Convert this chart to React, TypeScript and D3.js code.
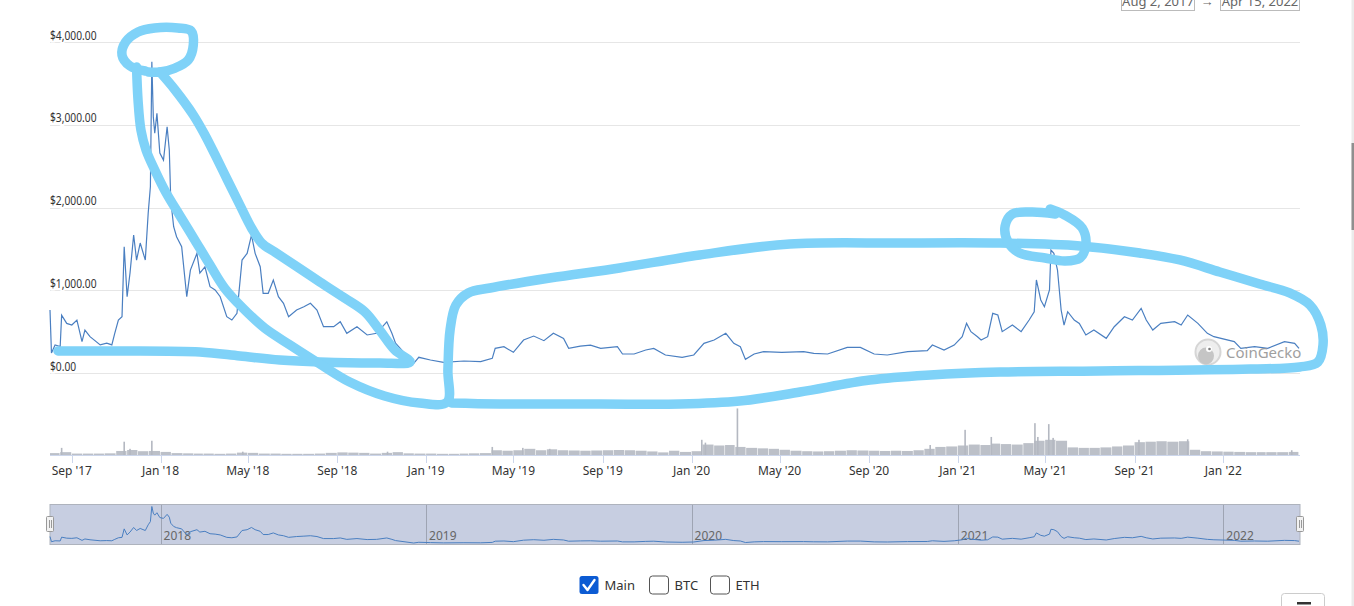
import { useEffect, useRef } from 'react';
import * as d3 from 'd3';

// BCH price in USD
const priceSeries: [string, number][] = [
  ['2017-08-02', 762], ['2017-08-04', 242], ['2017-08-09', 340], ['2017-08-16', 320], ['2017-08-18', 700],
  ['2017-08-25', 600], ['2017-09-01', 580], ['2017-09-08', 640], ['2017-09-15', 380], ['2017-09-19', 520],
  ['2017-09-26', 440], ['2017-10-10', 340], ['2017-10-19', 360], ['2017-10-26', 340], ['2017-10-30', 480],
  ['2017-11-04', 640], ['2017-11-09', 680], ['2017-11-12', 1527], ['2017-11-16', 923], ['2017-11-20', 1209],
  ['2017-11-25', 1669], ['2017-11-29', 1366], ['2017-12-04', 1572], ['2017-12-11', 1366], ['2017-12-15', 1935],
  ['2017-12-18', 2253], ['2017-12-20', 3764], ['2017-12-22', 3100], ['2017-12-24', 2900], ['2017-12-27', 3140],
  ['2017-12-31', 2660], ['2018-01-05', 2575], ['2018-01-10', 2978], ['2018-01-13', 2697], ['2018-01-15', 2092],
  ['2018-01-19', 1769], ['2018-01-23', 1648], ['2018-01-30', 1527], ['2018-02-06', 923], ['2018-02-11', 1245],
  ['2018-02-20', 1447], ['2018-02-24', 1209], ['2018-03-03', 1285], ['2018-03-10', 1044], ['2018-03-17', 1004],
  ['2018-03-24', 923], ['2018-04-02', 681], ['2018-04-09', 641], ['2018-04-16', 722], ['2018-04-23', 1366],
  ['2018-04-30', 1447], ['2018-05-06', 1669], ['2018-05-11', 1447], ['2018-05-18', 1285], ['2018-05-22', 964],
  ['2018-05-29', 964], ['2018-06-05', 1124], ['2018-06-12', 923], ['2018-06-19', 843], ['2018-06-26', 681],
  ['2018-07-07', 762], ['2018-07-17', 802], ['2018-07-26', 843], ['2018-08-04', 762], ['2018-08-13', 560],
  ['2018-08-27', 560], ['2018-09-05', 620], ['2018-09-14', 480], ['2018-09-28', 560], ['2018-10-12', 460],
  ['2018-10-25', 480], ['2018-11-08', 620], ['2018-11-15', 480], ['2018-11-20', 360], ['2018-12-15', 117],
  ['2018-12-22', 190], ['2019-01-07', 157], ['2019-01-25', 129], ['2019-02-22', 145], ['2019-03-17', 137],
  ['2019-04-02', 177], ['2019-04-06', 298], ['2019-04-18', 318], ['2019-05-01', 250], ['2019-05-15', 399],
  ['2019-05-29', 447], ['2019-06-12', 391], ['2019-06-25', 480], ['2019-07-09', 419], ['2019-07-16', 298],
  ['2019-08-01', 326], ['2019-08-15', 338], ['2019-08-29', 298], ['2019-09-21', 318], ['2019-09-28', 230],
  ['2019-10-14', 230], ['2019-10-30', 278], ['2019-11-10', 298], ['2019-11-26', 218], ['2019-12-19', 190],
  ['2020-01-04', 218], ['2020-01-18', 359], ['2020-02-01', 399], ['2020-02-17', 480], ['2020-02-28', 359],
  ['2020-03-08', 318], ['2020-03-15', 165], ['2020-03-27', 230], ['2020-04-09', 258], ['2020-05-04', 250],
  ['2020-06-03', 258], ['2020-06-17', 238], ['2020-07-06', 230], ['2020-08-02', 310], ['2020-08-20', 310],
  ['2020-09-08', 230], ['2020-09-26', 218], ['2020-10-24', 258], ['2020-11-20', 270], ['2020-11-27', 338],
  ['2020-12-13', 278], ['2020-12-27', 338], ['2021-01-07', 439], ['2021-01-13', 600], ['2021-01-19', 500],
  ['2021-01-28', 439], ['2021-02-02', 399], ['2021-02-11', 439], ['2021-02-18', 722], ['2021-02-25', 701],
  ['2021-03-03', 500], ['2021-03-17', 580], ['2021-03-29', 500], ['2021-04-09', 641], ['2021-04-16', 741],
  ['2021-04-19', 1125], ['2021-04-25', 883], ['2021-04-30', 802], ['2021-05-07', 1004], ['2021-05-09', 1487],
  ['2021-05-13', 1447], ['2021-05-18', 1245], ['2021-05-23', 762], ['2021-05-27', 580], ['2021-06-01', 741],
  ['2021-06-10', 641], ['2021-06-17', 600], ['2021-06-26', 460], ['2021-07-07', 520], ['2021-07-24', 419],
  ['2021-08-04', 560], ['2021-08-18', 681], ['2021-08-29', 641], ['2021-09-10', 782], ['2021-09-17', 641],
  ['2021-09-26', 520], ['2021-10-07', 600], ['2021-10-26', 620], ['2021-11-04', 580], ['2021-11-13', 701],
  ['2021-11-27', 600], ['2021-12-10', 480], ['2021-12-19', 439], ['2022-01-16', 380], ['2022-01-25', 298],
  ['2022-02-13', 318], ['2022-03-03', 298], ['2022-03-26', 380], ['2022-04-09', 359], ['2022-04-15', 298],
];

// traded volume, USD billions, half-month levels
const volumeBase: [string, number][] = [
  ['2017-08-02', 0.4], ['2017-08-16', 0.6], ['2017-09-01', 0.3], ['2017-09-16', 0.3], ['2017-10-01', 0.3],
  ['2017-10-16', 0.35], ['2017-11-01', 0.85], ['2017-11-16', 1.05], ['2017-12-01', 0.8], ['2017-12-16', 0.85],
  ['2018-01-01', 0.65], ['2018-01-16', 0.4], ['2018-02-01', 0.35], ['2018-02-16', 0.3], ['2018-03-01', 0.3],
  ['2018-03-16', 0.25], ['2018-04-01', 0.3], ['2018-04-16', 0.5], ['2018-05-01', 0.45], ['2018-05-16', 0.3],
  ['2018-06-01', 0.3], ['2018-06-16', 0.25], ['2018-07-01', 0.25], ['2018-07-16', 0.25], ['2018-08-01', 0.3],
  ['2018-08-16', 0.45], ['2018-09-01', 0.55], ['2018-09-16', 0.5], ['2018-10-01', 0.45], ['2018-10-16', 0.3],
  ['2018-11-01', 0.45], ['2018-11-16', 0.6], ['2018-12-01', 0.35], ['2018-12-16', 0.3], ['2019-01-01', 0.3],
  ['2019-01-16', 0.25], ['2019-02-01', 0.25], ['2019-02-16', 0.3], ['2019-03-01', 0.35], ['2019-03-16', 0.4],
  ['2019-04-01', 1.0], ['2019-04-16', 0.9], ['2019-05-01', 1.0], ['2019-05-16', 1.3], ['2019-06-01', 1.0],
  ['2019-06-16', 1.2], ['2019-07-01', 1.0], ['2019-07-16', 0.95], ['2019-08-01', 0.9], ['2019-08-16', 0.95],
  ['2019-09-01', 1.0], ['2019-09-16', 1.05], ['2019-10-01', 1.0], ['2019-10-16', 0.9], ['2019-11-01', 0.75],
  ['2019-11-16', 0.55], ['2019-12-01', 0.9], ['2019-12-16', 0.65], ['2020-01-01', 0.8], ['2020-01-16', 2.2],
  ['2020-02-01', 2.0], ['2020-02-16', 2.1], ['2020-03-01', 1.7], ['2020-03-16', 1.5], ['2020-04-01', 1.4],
  ['2020-04-16', 1.3], ['2020-05-01', 1.1], ['2020-05-16', 0.9], ['2020-06-01', 0.8], ['2020-06-16', 0.75],
  ['2020-07-01', 0.8], ['2020-07-16', 0.9], ['2020-08-01', 1.0], ['2020-08-16', 0.95], ['2020-09-01', 0.9],
  ['2020-09-16', 0.85], ['2020-10-01', 0.9], ['2020-10-16', 0.85], ['2020-11-01', 1.0], ['2020-11-16', 1.3],
  ['2020-12-01', 1.7], ['2020-12-16', 1.8], ['2021-01-01', 2.0], ['2021-01-16', 2.2], ['2021-02-01', 2.1],
  ['2021-02-16', 2.4], ['2021-03-01', 2.3], ['2021-03-16', 2.2], ['2021-04-01', 2.5], ['2021-04-16', 3.0],
  ['2021-05-01', 3.2], ['2021-05-16', 3.0], ['2021-06-01', 1.6], ['2021-06-16', 1.5], ['2021-07-01', 1.5],
  ['2021-07-16', 1.6], ['2021-08-01', 1.8], ['2021-08-16', 2.0], ['2021-09-01', 2.7], ['2021-09-16', 2.8],
  ['2021-10-01', 2.9], ['2021-10-16', 2.8], ['2021-11-01', 2.9], ['2021-11-16', 1.1], ['2021-12-01', 0.8],
  ['2021-12-16', 0.75], ['2022-01-01', 0.7], ['2022-01-16', 0.65], ['2022-02-01', 0.6], ['2022-02-16', 0.6],
  ['2022-03-01', 0.6], ['2022-03-16', 0.6], ['2022-04-01', 0.65],
];

// single-day volume spikes, USD billions
const volumeSpikes: [string, number][] = [
  ['2017-08-18', 1.5], ['2017-11-12', 2.8], ['2017-11-20', 1.3], ['2017-12-20', 3.0], ['2018-04-24', 0.7],
  ['2018-11-09', 0.7], ['2019-04-02', 1.7], ['2019-05-14', 1.5], ['2019-06-20', 1.3], ['2020-01-15', 3.2],
  ['2020-01-20', 2.6], ['2020-03-04', 9.8], ['2020-11-24', 2.1], ['2021-01-11', 5.3], ['2021-02-16', 3.8],
  ['2021-04-17', 6.7], ['2021-04-21', 3.8], ['2021-05-06', 6.5], ['2021-05-12', 3.6], ['2021-09-07', 3.2],
  ['2021-11-13', 3.3], ['2022-04-05', 1.0],
];

const yTicks = [0, 1000, 2000, 3000, 4000];
const dateRange = ['Aug 2, 2017', 'Apr 15, 2022'];
const legendItems = [{ name: 'Main', checked: true }, { name: 'BTC', checked: false }, { name: 'ETH', checked: false }];

// hand-drawn marker strokes, in chart units (date, price)
const inkTop: [string, number][] = [
  ['2017-12-11', 3653], ['2017-11-20', 3713], ['2017-11-09', 3846], ['2017-11-14', 4004], ['2017-12-01', 4125],
  ['2017-12-24', 4173], ['2018-01-25', 4173], ['2018-02-12', 4137], ['2018-02-15', 3967], ['2018-02-08', 3786],
  ['2018-01-21', 3689], ['2017-12-31', 3641], ['2017-12-15', 3641],
];
const inkTriangle: [string, number][] = [
  ['2017-12-31', 3641], ['2018-01-21', 3423], ['2018-02-15', 3121], ['2018-03-03', 2879], ['2018-03-17', 2637],
  ['2018-04-03', 2334], ['2018-04-20', 2032], ['2018-05-06', 1754], ['2018-05-20', 1572], ['2018-06-07', 1464],
  ['2018-07-04', 1306], ['2018-08-08', 1101], ['2018-09-11', 907], ['2018-10-09', 738], ['2018-10-29', 520],
  ['2018-11-19', 278], ['2018-12-10', 133], ['2018-10-29', 121], ['2018-08-08', 133], ['2018-06-14', 157],
  ['2018-04-20', 206], ['2018-02-24', 254], ['2017-11-06', 266], ['2017-08-13', 266],
];
const inkLoop: [string, number][] = [
  ['2017-11-29', 3701], ['2017-12-01', 3302], ['2017-12-05', 2939], ['2017-12-12', 2697], ['2017-12-24', 2455],
  ['2018-01-08', 2189], ['2018-01-27', 1911], ['2018-02-17', 1609], ['2018-03-10', 1306], ['2018-03-30', 1028],
  ['2018-04-24', 786], ['2018-05-24', 544], ['2018-06-28', 339], ['2018-08-08', 109], ['2018-09-18', -109],
  ['2018-11-05', -278], ['2018-12-23', -363], ['2019-01-30', -351], ['2019-01-31', 36], ['2019-02-03', 520],
  ['2019-02-11', 822], ['2019-02-28', 968], ['2019-03-30', 1028], ['2019-06-20', 1149], ['2019-09-24', 1270],
  ['2020-01-12', 1427], ['2020-05-15', 1560], ['2020-10-13', 1572], ['2021-02-28', 1572], ['2021-06-18', 1536],
  ['2021-09-08', 1451], ['2021-11-02', 1367], ['2021-12-27', 1222], ['2022-02-20', 1076], ['2022-04-02', 968],
  ['2022-04-30', 822], ['2022-05-15', 581], ['2022-05-18', 339], ['2022-05-11', 133], ['2022-04-16', 73],
  ['2022-02-07', 48], ['2021-07-15', 24], ['2021-02-28', 12], ['2020-11-24', -24], ['2020-09-02', -85],
  ['2020-05-29', -230], ['2020-03-07', -339], ['2019-12-16', -375], ['2019-08-28', -375], ['2019-04-12', -375],
  ['2019-02-05', -363],
];
const inkPeak2021: [string, number][] = [
  ['2021-05-08', 1984], ['2021-05-28', 1911], ['2021-06-21', 1754], ['2021-06-26', 1548], ['2021-06-18', 1391],
  ['2021-05-28', 1355], ['2021-05-01', 1391], ['2021-03-27', 1451], ['2021-03-11', 1585], ['2021-03-07', 1778],
  ['2021-03-17', 1923], ['2021-04-13', 1947], ['2021-05-15', 1923],
];

const FONT = "'Segoe UI', 'Noto Sans', 'Open Sans', sans-serif";

export default function App() {
  const ref = useRef<SVGSVGElement>(null);

  useEffect(() => {
    document.body.style.margin = '0';
    document.body.style.overflow = 'hidden';
    const svg = d3.select(ref.current);
    svg.selectAll('*').remove();

    const parse = d3.timeParse('%Y-%m-%d');
    const start = parse('2017-08-02')!;
    const end = parse('2022-04-15')!;
    const prices = priceSeries.map(([d, v]) => ({ date: parse(d)!, value: v }));

    // scales
    const x = d3.scaleTime().domain([start, end]).range([50, 1299]);
    const y = d3.scaleLinear().domain([0, 4000]).range([373, 42.3]);
    const yVol = d3.scaleLinear().domain([0, 10]).range([455, 407.5]);
    const yNav = d3.scaleLinear()
      .domain([d3.min(prices, d => d.value)!, d3.max(prices, d => d.value)!])
      .range([543, 506.5]);

    svg.append('rect').attr('width', 1354).attr('height', 606).attr('fill', '#fff');

    // grid lines
    svg.append('g').selectAll('line').data(yTicks).enter().append('line')
      .attr('x1', 50).attr('x2', 1300)
      .attr('y1', d => Math.round(y(d)) + 0.5).attr('y2', d => Math.round(y(d)) + 0.5)
      .attr('stroke', '#e6e6e6');

    // y labels (white halo hides the grid under them)
    const money = d3.format('$,.2f');
    svg.append('g').selectAll('text').data(yTicks).enter().append('text')
      .attr('transform', d => `translate(50,${y(d) - 2.5}) scale(0.82,1)`)
      .attr('font-family', FONT).attr('font-size', 12.5).attr('fill', '#333')
      .attr('stroke', '#fff').attr('stroke-width', 4).attr('paint-order', 'stroke')
      .text(d => money(d));

    // volume columns
    const base = volumeBase.map(([d, v]) => ({ date: parse(d)!, value: v }));
    svg.append('g').selectAll('rect').data(base).enter().append('rect')
      .attr('x', d => x(d.date))
      .attr('width', (d, i) => Math.max(0.5, (i < base.length - 1 ? x(base[i + 1].date) : x(end)) - x(d.date) - 0.6))
      .attr('y', d => yVol(d.value))
      .attr('height', d => 455 - yVol(d.value))
      .attr('fill', '#bcc0c8');
    svg.append('g').selectAll('rect').data(volumeSpikes).enter().append('rect')
      .attr('x', d => x(parse(d[0])!) - 0.8)
      .attr('width', 1.6)
      .attr('y', d => yVol(d[1]))
      .attr('height', d => 455 - yVol(d[1]))
      .attr('fill', '#b4b8c1');

    // x axis
    svg.append('line').attr('x1', 50).attr('x2', 1300).attr('y1', 455.5).attr('y2', 455.5)
      .attr('stroke', '#ccd6eb');
    const xTicks = x.ticks(d3.timeMonth.every(4)!);
    const fmt = d3.timeFormat("%b '%y");
    const xt = svg.append('g');
    xt.selectAll('line').data(xTicks).enter().append('line')
      .attr('x1', d => Math.round(x(d)) + 0.5).attr('x2', d => Math.round(x(d)) + 0.5)
      .attr('y1', 455).attr('y2', 463).attr('stroke', '#ccd6eb');
    xt.selectAll('text').data(xTicks).enter().append('text')
      .attr('x', d => x(d)).attr('y', 474.5)
      .attr('text-anchor', 'middle')
      .attr('font-family', FONT).attr('font-size', 12).attr('fill', '#333')
      .text(d => fmt(d));

    // price line
    const line = d3.line<{ date: Date; value: number }>().x(d => x(d.date)).y(d => y(d.value));
    svg.append('path').datum(prices)
      .attr('d', line).attr('fill', 'none').attr('stroke', '#4a7fc1').attr('stroke-width', 1.2);

    // CoinGecko watermark
    const wm = svg.append('g').attr('opacity', 0.85);
    wm.append('circle').attr('cx', 1208).attr('cy', 352).attr('r', 12.5)
      .attr('fill', '#ececec').attr('stroke', '#cfcfcf').attr('stroke-width', 2);
    wm.append('ellipse').attr('cx', 1206).attr('cy', 356).attr('rx', 8).attr('ry', 8.5).attr('fill', '#bcbcbc');
    wm.append('circle').attr('cx', 1209).attr('cy', 349).attr('r', 3).attr('fill', '#fff');
    wm.append('circle').attr('cx', 1209.5).attr('cy', 349).attr('r', 1.3).attr('fill', '#666');
    wm.append('text').attr('x', 1226).attr('y', 358)
      .attr('font-family', FONT).attr('font-size', 15).attr('fill', '#8f8f8f')
      .text('CoinGecko');

    // navigator
    const nav = svg.append('g');
    nav.append('rect').attr('x', 50).attr('y', 504.5).attr('width', 1250).attr('height', 40)
      .attr('fill', '#c7cee1').attr('stroke', '#aeb3bd');
    const years = x.ticks(d3.timeYear.every(1)!);
    nav.selectAll('line.sep').data(years).enter().append('line')
      .attr('x1', d => Math.round(x(d)) + 0.5).attr('x2', d => Math.round(x(d)) + 0.5)
      .attr('y1', 505).attr('y2', 544).attr('stroke', '#9ea4b3');
    nav.selectAll('text').data(years).enter().append('text')
      .attr('x', d => x(d) + 3).attr('y', 540)
      .attr('font-family', FONT).attr('font-size', 12).attr('fill', '#666')
      .text(d => d3.timeFormat('%Y')(d));
    const navLine = d3.line<{ date: Date; value: number }>().x(d => x(d.date)).y(d => yNav(d.value));
    nav.append('path').datum(prices)
      .attr('d', navLine).attr('fill', 'none').attr('stroke', '#4a7fc1').attr('stroke-width', 1);
    [50, 1300].forEach(hx => {
      nav.append('rect').attr('x', hx - 3.5).attr('y', 516.5).attr('width', 7).attr('height', 15)
        .attr('rx', 1).attr('fill', '#f2f2f2').attr('stroke', '#999');
      [-1, 1].forEach(o => nav.append('line')
        .attr('x1', hx + o + 0.5).attr('x2', hx + o + 0.5).attr('y1', 520).attr('y2', 528)
        .attr('stroke', '#999'));
    });

    // date range inputs (cut off at the top, as in the page)
    const dr = svg.append('g').attr('font-family', FONT).attr('font-size', 13).attr('fill', '#666');
    dr.append('rect').attr('x', 1121.5).attr('y', -12).attr('width', 73).attr('height', 22.5)
      .attr('fill', '#fff').attr('stroke', '#bbb');
    dr.append('text').attr('x', 1158).attr('y', 6).attr('text-anchor', 'middle').text(dateRange[0]);
    dr.append('text').attr('x', 1207).attr('y', 6).attr('text-anchor', 'middle').text('→');
    dr.append('rect').attr('x', 1220.5).attr('y', -12).attr('width', 79).attr('height', 22.5)
      .attr('fill', '#fff').attr('stroke', '#bbb');
    dr.append('text').attr('x', 1260).attr('y', 6).attr('text-anchor', 'middle').text(dateRange[1]);

    // legend checkboxes
    const boxX = [579.5, 649.5, 710.5];
    const lg = svg.append('g');
    legendItems.forEach((item, i) => {
      if (item.checked) {
        lg.append('rect').attr('x', boxX[i]).attr('y', 576).attr('width', 19).attr('height', 18)
          .attr('rx', 2.5).attr('fill', '#0c5bd3');
        lg.append('path').attr('d', `M${boxX[i] + 4},${585} l4,5 l7,-10`)
          .attr('fill', 'none').attr('stroke', '#fff').attr('stroke-width', 2.4)
          .attr('stroke-linecap', 'round').attr('stroke-linejoin', 'round');
      } else {
        lg.append('rect').attr('x', boxX[i]).attr('y', 576).attr('width', 19).attr('height', 18)
          .attr('rx', 3).attr('fill', '#fff').attr('stroke', '#555');
      }
      lg.append('text').attr('x', boxX[i] + 25).attr('y', 590)
        .attr('font-family', FONT).attr('font-size', 13).attr('fill', '#333')
        .text(item.name);
    });

    // menu button bottom right and page scrollbar
    svg.append('rect').attr('x', 1281.5).attr('y', 593.5).attr('width', 43).attr('height', 22)
      .attr('rx', 3).attr('fill', '#fff').attr('stroke', '#ccc');
    svg.append('rect').attr('x', 1297).attr('y', 602).attr('width', 14).attr('height', 2.5).attr('fill', '#333');
    svg.append('rect').attr('x', 1351.5).attr('y', 0).attr('width', 2.5).attr('height', 606).attr('fill', '#ebebeb');
    svg.append('rect').attr('x', 1351.5).attr('y', 143).attr('width', 2.5).attr('height', 87).attr('fill', '#8f8f8f');

    // hand-drawn highlight strokes
    const ink = d3.line<[string, number]>()
      .x(d => x(parse(d[0])!)).y(d => y(d[1]))
      .curve(d3.curveCatmullRom.alpha(0.5));
    svg.append('g').selectAll('path').data([inkTop, inkTriangle, inkLoop, inkPeak2021]).enter().append('path')
      .attr('d', d => ink(d))
      .attr('fill', 'none').attr('stroke', '#7fd2f8').attr('stroke-width', 9.5)
      .attr('stroke-linecap', 'round').attr('stroke-linejoin', 'round');
  }, []);

  return <svg ref={ref} width={1354} height={606} style={{ display: 'block' }} />;
}
